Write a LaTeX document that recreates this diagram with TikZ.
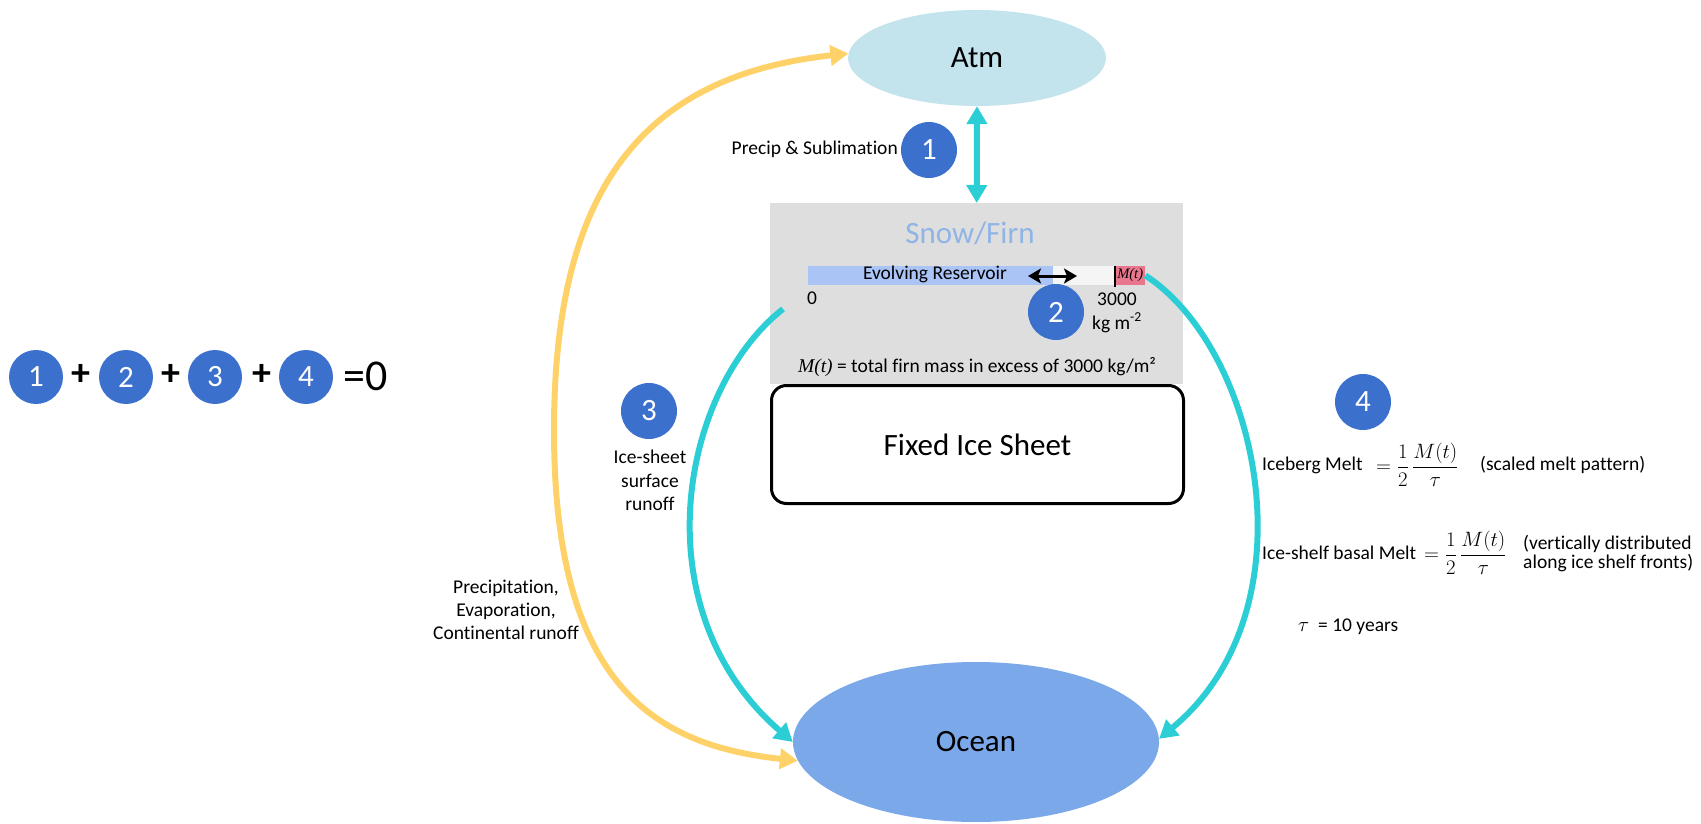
\documentclass[tikz,border=0pt]{standalone}
\usepackage{fontspec}
\setmainfont{Carlito}[Ligatures=CommonOff]
\newfontfamily\tms{Liberation Serif}
\usetikzlibrary{shapes.geometric,arrows.meta}

\definecolor{flowcyan}{RGB}{44,206,214}
\definecolor{flowyellow}{RGB}{255,210,105}
\definecolor{atmfill}{RGB}{195,228,236}
\definecolor{oceanfill}{RGB}{122,168,232}
\definecolor{numblue}{RGB}{60,112,205}
\definecolor{firngrey}{RGB}{222,222,222}
\definecolor{firntext}{RGB}{143,180,230}
\definecolor{resblue}{RGB}{170,196,245}
\definecolor{reswhite}{RGB}{245,245,245}
\definecolor{mtpink}{RGB}{234,118,142}

\newcommand{\Mt}{{\tms\itshape M(t)}}

\begin{document}
\begin{tikzpicture}[x=1pt,y=-1pt,
  numdisc/.style={circle, fill=numblue, text=white, minimum size=56pt, inner sep=0pt,
    font=\fontsize{31}{31}\selectfont},
  eqdisc/.style={numdisc, minimum size=54pt},
  big/.style={font=\fontsize{31}{36}\selectfont},
  lbl/.style={font=\fontsize{19.5}{23.5}\selectfont, align=center, inner sep=0pt},
  barpart/.style={minimum height=19pt, inner sep=0pt, anchor=west},
  cyflow/.style={draw=flowcyan, line width=6pt},
  yeflow/.style={draw=flowyellow, line width=6pt},
  bigtip/.style={-{Triangle[length=18pt,width=20pt]}},
  bigtips/.style={{Triangle[length=18pt,width=20pt]}-{Triangle[length=18pt,width=20pt]}}
]
\useasboundingbox (0,0) rectangle (1701,824);

% reservoirs
\node[ellipse, fill=atmfill, minimum width=258pt, minimum height=96pt, inner sep=0pt, big] (atm) at (977,58) {Atm};
\node[ellipse, fill=oceanfill, minimum width=366pt, minimum height=160pt, inner sep=0pt, big] (ocean) at (976,742) {Ocean};
\node[fill=firngrey, minimum width=413pt, minimum height=181pt, inner sep=0pt, anchor=north west] (firn) at (770,203) {};
\node[draw, line width=3pt, rounded corners=15pt, minimum width=412pt, minimum height=118pt, inner sep=0pt, big] (ice) at (977.5,444.5) {Fixed Ice Sheet};

% snow/firn contents
\node[big, text=firntext] (snowlbl) at (970,233) {Snow/Firn};
\node[barpart, fill=resblue, minimum width=245pt] (res) at (808,275.5) {};
\node[barpart, fill=reswhite, minimum width=62pt] (resw) at (1053,275.5) {};
\node[barpart, fill=mtpink, minimum width=30pt, font=\fontsize{14.5}{15}\selectfont] (mt) at (1115,275.5) {\Mt};
\draw[line width=2.5pt] (mt.north west) -- ([yshift=-2pt]mt.south west);
\node[lbl] (evo) at (935,274) {Evolving Reservoir};
\coordinate (dl) at (1028,276);
\coordinate (dr) at (1077,276);
\draw[line width=3pt, {Stealth[length=13pt,width=15pt,inset=3pt]}-{Stealth[length=13pt,width=15pt,inset=3pt]}] (dl) -- (dr);
\node[lbl] (zero) at (812,298) {0};
\node[lbl] (cap) at (1117,313) {3000\\kg m\textsuperscript{-2}};
\node[numdisc] (n2) at (1056,312) {2};
\node[lbl] (mtdef) at (977,367) {\Mt{} = total firn mass in excess of 3000 kg/m²};

% flux numbers and labels
\node[numdisc] (n1) at (929,150) {1};
\node[lbl, anchor=east] (precsub) at (898,149) {Precip \& Sublimation};
\node[numdisc] (n3) at (649,411) {3};
\node[lbl, anchor=north] (runoff) at (650,450) {Ice-sheet\\surface\\runoff};
\node[lbl, font=\fontsize{19.5}{23}\selectfont] (pecr) at (506,610) {Precipitation,\\Evaporation,\\Continental runoff};
\node[numdisc] (n4) at (1363,402) {4};

% melt terms
\node[lbl, anchor=west] (ibm) at (1262,465) {Iceberg Melt};
\node[lbl, anchor=west] (ibmeq) at (1376,465) {$\displaystyle =\frac{1}{2}\,\frac{M(t)}{\tau}$};
\node[lbl, anchor=west] (ibmnote) at (1480,465) {(scaled melt pattern)};
\node[lbl, anchor=west] (ism) at (1262,553) {Ice-shelf basal Melt};
\node[lbl, anchor=west] (ismeq) at (1424,553) {$\displaystyle =\frac{1}{2}\,\frac{M(t)}{\tau}$};
\node[lbl, anchor=west, align=left, font=\fontsize{19.5}{19}\selectfont] (ismnote) at (1523,554) {(vertically distributed\\along ice shelf fronts)};
\node[lbl, anchor=west] (tau) at (1298,627) {$\tau$\ \ = 10 years};

% budget equation
\node[eqdisc] (e1) at (36,377) {1};
\node[eqdisc] (e2) at (126,377) {2};
\node[eqdisc] (e3) at (215,377) {3};
\node[eqdisc] (e4) at (306,377) {4};
\node[font=\fontsize{38}{38}\selectfont\bfseries, inner sep=0pt] (p1) at (81,375) {+};
\node[font=\fontsize{38}{38}\selectfont\bfseries, inner sep=0pt] (p2) at (171,375) {+};
\node[font=\fontsize{38}{38}\selectfont\bfseries, inner sep=0pt] (p3) at (262,375) {+};
\node[font=\fontsize{44}{44}\selectfont, inner sep=0pt] (eq0) at (366,376) {=0};

% fluxes
\draw[cyflow, bigtips] (atm.south) -- (firn.north);
\coordinate (runoffstart) at (783,309);
\draw[cyflow, bigtip] (runoffstart) .. controls (680,390) and (640,610) .. (ocean.180);
\draw[cyflow, bigtip] (mt.east) .. controls (1260,350) and (1315,610) .. (ocean.1);
\draw[yeflow, bigtips] (ocean.186) .. controls (650,745) and (554,680) .. (554,430)
  .. controls (554,180) and (650,75) .. (atm.178);
\end{tikzpicture}
\end{document}
